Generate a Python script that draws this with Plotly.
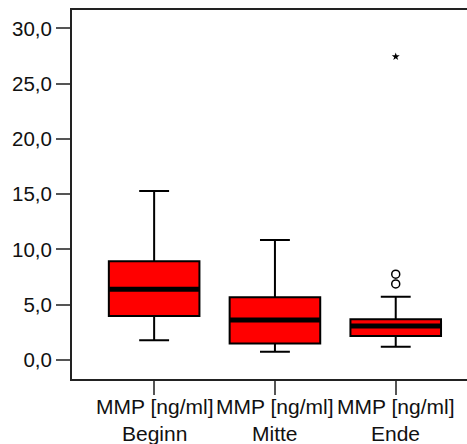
import plotly.graph_objects as go

label_top = ["MMP [ng/ml]", "MMP [ng/ml]", "MMP [ng/ml]"]
label_bottom = ["Beginn", "Mitte", "Ende"]
q1 = [3.98, 1.50, 2.17]
median = [6.40, 3.62, 3.08]
q3 = [8.93, 5.67, 3.68]
lower_whisker = [1.78, 0.75, 1.20]
upper_whisker = [15.30, 10.86, 5.73]
outlier_cat = [2, 2]
outlier_vals = [7.76, 6.88]
extreme_cat = [2]
extreme_vals = [27.45]
y_ticks = [0, 5, 10, 15, 20, 25, 30]

xpos = list(range(len(label_top)))
box_w = 0.75

fig = go.Figure()
fig.add_trace(go.Box(
    x=xpos, q1=q1, median=median, q3=q3,
    lowerfence=lower_whisker, upperfence=upper_whisker,
    width=box_w, whiskerwidth=0.33,
    fillcolor="#ff0000", line=dict(color="black", width=2),
    boxpoints=False, hoverinfo="skip",
))
mx, my = [], []
for i, m in zip(xpos, median):
    mx += [i - box_w / 2, i + box_w / 2, None]
    my += [m, m, None]
fig.add_trace(go.Scatter(x=mx, y=my, mode="lines", line=dict(color="black", width=5), hoverinfo="skip"))
fig.add_trace(go.Scatter(x=outlier_cat, y=outlier_vals, mode="markers",
                         marker=dict(symbol="circle-open", size=8, color="black", line=dict(width=1.5))))
fig.add_trace(go.Scatter(x=extreme_cat, y=extreme_vals, mode="markers",
                         marker=dict(symbol="star", size=6, color="black")))

lab_font = dict(family="Liberation Sans, Arial, sans-serif", size=21, color="#111")
for i, (t, b) in enumerate(zip(label_top, label_bottom)):
    fig.add_annotation(x=i, xref="x", y=-0.0732, yref="paper", text=t, showarrow=False,
                       yanchor="middle", xanchor="center", font=lab_font)
    fig.add_annotation(x=i, xref="x", y=-0.148, yref="paper", text=b, showarrow=False,
                       yanchor="middle", xanchor="center", font=lab_font)

fig.update_layout(
    width=467, height=444,
    margin=dict(l=72, r=0, t=10, b=65),
    plot_bgcolor="white", paper_bgcolor="white",
    showlegend=False,
    separators=",.",
    font=dict(family="Liberation Sans, Arial, sans-serif", size=20.5, color="#111"),
    xaxis=dict(range=[-0.68, 2.59], tickvals=xpos, ticktext=["" for _ in xpos],
               showline=True, linewidth=2, linecolor="#222", mirror=True,
               ticks="outside", ticklen=14, tickwidth=1.5, tickcolor="#555",
               showgrid=False, zeroline=False, automargin=False),
    yaxis=dict(range=[-1.72, 31.67], tickvals=y_ticks, tickformat=".1f",
               showline=True, linewidth=2, linecolor="#222",
               ticks="outside", ticklen=14, tickwidth=1.5, tickcolor="#555",
               showgrid=False, zeroline=False, automargin=False),
)
fig.write_html("out.html")
